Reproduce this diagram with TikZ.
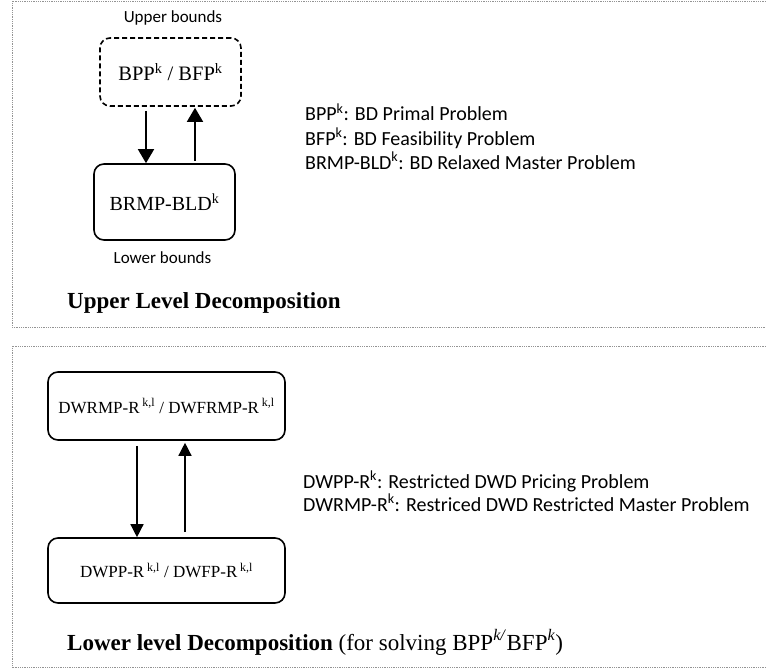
\documentclass[tikz,border=0pt]{standalone}
\usepackage{fontspec}
\setmainfont{Liberation Serif}
\newfontfamily\calibrifont{Carlito}
\usetikzlibrary{arrows.meta}
\begin{document}
\begin{tikzpicture}[x=1pt,y=-1pt,
  frame/.style={draw=gray!85, densely dotted, line width=0.8pt},
  box/.style={draw, line width=1.6pt, rounded corners=10pt, inner sep=0pt},
  dbox/.style={box, dash pattern=on 5pt off 3pt},
  arr/.style={line width=1.4pt, -{Triangle[width=13pt,length=13pt]}},
  bigarr/.style={line width=1.5pt, -{Triangle[width=16pt,length=14pt]}},
  note/.style={font=\calibrifont\fontsize{20}{24}\selectfont, inner sep=0pt, anchor=base west},
  small/.style={font=\calibrifont\fontsize{17}{20}\selectfont, inner sep=0pt, anchor=base},
  captext/.style={font=\fontsize{23}{27}\selectfont, inner sep=0pt, anchor=base west}]
\useasboundingbox (0,0) rectangle (766,669);

% frames
\draw[frame] (766,1) -| (12,327) -- (766,327);
\draw[frame] (766,346) -| (12,667.5) -- (766,667.5);

% upper level
\node[small] (ubl) at (173,23) {Upper bounds};
\node[dbox, minimum width=141pt, minimum height=68pt, font=\fontsize{20.5}{24}\selectfont] (ub) at (170.5,72) {BPP\textsuperscript{k} / BFP\textsuperscript{k}};
\node[box, minimum width=141pt, minimum height=76pt, font=\fontsize{20}{24}\selectfont] (lb) at (164.5,202) {BRMP-BLD\textsuperscript{k}};
\node[small] (lbl) at (162.5,263) {Lower bounds};
\draw[bigarr] ([xshift=-24.5pt,yshift=-4pt]ub.south) -- ([xshift=-24.5pt]ub.south |- lb.north);
\draw[bigarr] ([xshift=24.5pt,yshift=2pt]ub.south |- lb.north) -- ([xshift=24.5pt,yshift=-1pt]ub.south);
\node[note] (n1) at (305,121) {BPP\textsuperscript{k}: BD Primal Problem};
\node[note] (n2) at (305,145) {BFP\textsuperscript{k}: BD Feasibility Problem};
\node[note] (n3) at (305,169) {BRMP-BLD\textsuperscript{k}: BD Relaxed Master Problem};
\node[captext] (c1) at (67,308) {\textbf{Upper Level Decomposition}};

% lower level
\node[box, minimum width=237pt, minimum height=68pt, font=\fontsize{17}{20}\selectfont] (mp) at (166.5,406) {DWRMP-R\,\textsuperscript{k,l} / DWFRMP-R\,\textsuperscript{k,l}};
\node[box, minimum width=237pt, minimum height=65pt, font=\fontsize{17}{20}\selectfont] (pp) at (166.5,570.5) {DWPP-R\,\textsuperscript{k,l} / DWFP-R\,\textsuperscript{k,l}};
\draw[arr] ([xshift=-29.5pt,yshift=-5pt]mp.south) -- ([xshift=-29.5pt]mp.south |- pp.north);
\draw[arr] ([xshift=18.5pt,yshift=5pt]mp.south |- pp.north) -- ([xshift=18.5pt,yshift=-2pt]mp.south);
\node[note] (n4) at (303,488) {DWPP-R\textsuperscript{k}: Restricted DWD Pricing Problem};
\node[note] (n5) at (303,511) {DWRMP-R\textsuperscript{k}: Restriced DWD Restricted Master Problem};
\node[captext] (c2) at (67,650) {\textbf{Lower level Decomposition} (for solving BPP\textsuperscript{\textit{k/}}BFP\textsuperscript{\textit{k}})};
\end{tikzpicture}
\end{document}
